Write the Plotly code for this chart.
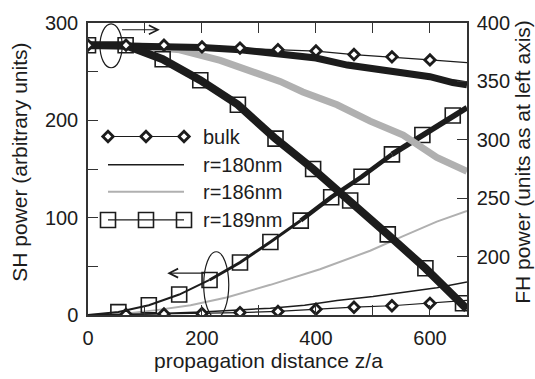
import plotly.graph_objects as go

# ---------------- data ----------------
# SH power (left axis)
sh_bulk_line_z = [0, 66.7, 133.3, 200, 266.7, 333.3, 400, 466.7, 533.3, 600, 665]
sh_bulk_line = [0, 0.5, 1, 1.5, 2.5, 3.7, 6, 8, 9.5, 12, 15]
sh_bulk_mk_z = [66.7, 133.3, 200, 266.7, 333.3, 400, 466.7, 533.3, 600]
sh_bulk_mk = [0.5, 1, 1.5, 2.5, 3.7, 6, 8, 9.5, 12]

sh180_z = [0, 100, 200, 320, 380, 437, 500, 553, 612, 665]
sh180 = [0, 1, 3, 7, 10, 15, 19, 23, 28, 34]

sh186_z = [0, 60, 120, 180, 243, 320, 407, 495, 553, 612, 665]
sh186 = [0, 1, 5, 10, 18, 31, 47, 66, 81, 96, 107]

sh189_z = [0, 53.3, 106.7, 160, 213.3, 266.7, 320, 373.3, 426.7, 480, 533.3, 586.7, 640, 665]
sh189 = [0, 3, 10, 21, 36, 54, 75, 97, 121, 142, 165, 185, 205, 213]
sh189_mk_z = [53.3, 106.7, 160, 213.3, 266.7, 320, 373.3, 426.7, 480, 533.3, 586.7, 640]
sh189_mk = [3, 10, 21, 36, 54, 75, 97, 121, 142, 165, 185, 205]

# FH power (right axis)
fh_bulk_line_z = [0, 66.7, 133.3, 200, 266.7, 333.3, 400, 466.7, 533.3, 600, 665]
fh_bulk_line = [381, 381, 381, 379.5, 378.5, 377.2, 376, 373, 371, 368.4, 366]
fh_bulk_mk_z = [0, 66.7, 133.3, 200, 266.7, 333.3, 400, 466.7, 533.3, 600]
fh_bulk_mk = [381, 381, 381, 379.5, 378.5, 377.2, 376, 373, 371, 368.4]

fh180_z = [0, 100, 200, 267, 333, 400, 455, 500, 550, 600, 640, 665]
fh180 = [381, 380.5, 379, 377, 374, 370, 364, 361, 358, 354, 349, 347]

fh186_z = [0, 90, 161, 232, 302, 337, 377, 437, 495, 553, 612, 665]
fh186 = [381, 380, 377, 368, 356, 350, 341, 330, 316, 304, 285, 273]

fh189_z = [0, 66, 131, 197, 263, 329, 395, 460, 526, 592, 658, 665]
fh189 = [381, 381, 369, 351, 330, 301, 275, 248, 219, 190, 160, 155]
fh189_mk_z = [0, 66, 131, 197, 263, 329, 395, 460, 526, 592, 658]
fh189_mk = [381, 381, 369, 351, 330, 301, 275, 248, 219, 190, 160]

legend_labels = ["bulk", "r=180nm", "r=186nm", "r=189nm"]

x_ticks = [0, 100, 200, 300, 400, 500, 600]
x_ticktext = ["0", "", "200", "", "400", "", "600"]
yl_ticks = [0, 50, 100, 150, 200, 250, 300]
yl_ticktext = ["0", "", "100", "", "200", "", "300"]
yr_ticks = [150, 200, 250, 300, 350, 400]
yr_ticktext = ["", "200", "250", "300", "350", "400"]

# ---------------- style ----------------
BLK = "#1c1c1c"
GRY = "#b0b0b0"
AX = "#333333"
FONT = "Liberation Sans, Arial, sans-serif"
FS = 20
FST = 21

W, H = 535, 379
L, R, T, B = 88, 68, 14, 64

fig = go.Figure()

def ln(x, y, color, width, yaxis="y", mode="lines", marker=None):
    d = dict(x=x, y=y, mode=mode, yaxis=yaxis, showlegend=False,
             hoverinfo="skip", line=dict(color=color, width=width))
    if marker:
        d["marker"] = marker
    fig.add_trace(go.Scatter(**d))

diamond = dict(symbol="diamond", size=8, color="white", line=dict(color=BLK, width=2.8))
square = dict(symbol="square-open", size=15, color=BLK, line=dict(color=BLK, width=1.6))

# FH curves (thick, right axis)
ln(fh186_z, fh186, GRY, 7, "y2")
ln(fh180_z, fh180, BLK, 7, "y2")
ln(fh189_z, fh189, BLK, 8, "y2")
ln(fh189_mk_z, fh189_mk, BLK, 0, "y2", "markers", square)
ln(fh_bulk_line_z, fh_bulk_line, BLK, 1.2, "y2")
ln(fh_bulk_mk_z, fh_bulk_mk, BLK, 0, "y2", "markers", diamond)

# SH curves (left axis)
ln(sh186_z, sh186, GRY, 2)
ln(sh180_z, sh180, BLK, 1.5)
segs = [(0, 5, 2), (4, 8, 3), (7, 11, 4.5), (10, 14, 5.5)]
for a, b, w in segs:
    ln(sh189_z[a:b], sh189[a:b], BLK, w)
ln(sh189_mk_z, sh189_mk, BLK, 0, "y", "markers", square)
ln(sh_bulk_line_z, sh_bulk_line, BLK, 1.2)
ln(sh_bulk_mk_z, sh_bulk_mk, BLK, 0, "y", "markers", diamond)

# ---------------- manual legend on a pixel-space helper axis ----------------
leg_y = [131, 160, 188, 217]
leg_x0, leg_x1, leg_xm = 108, 184, 146
leg_text_x = 201
styles = [
    (BLK, 1.2, diamond),
    (BLK, 1.5, None),
    (GRY, 2, None),
    (BLK, 1.2, square),
]
for yy, (c, w, mk), lab in zip(leg_y, styles, legend_labels):
    fig.add_trace(go.Scatter(x=[leg_x0, leg_xm, leg_x1], y=[yy, yy, yy],
                             xaxis="x3", yaxis="y3",
                             mode="lines+markers" if mk else "lines",
                             line=dict(color=c, width=w), marker=mk,
                             showlegend=False, hoverinfo="skip"))
    fig.add_annotation(x=leg_text_x, y=yy, xref="x3", yref="y3", text=lab,
                       showarrow=False, xanchor="left", yanchor="middle",
                       font=dict(family=FONT, size=FS, color=BLK))

# ellipses + arrows
fig.add_shape(type="circle", xref="x", yref="y", x0=21, x1=60, y0=254, y1=299,
              line=dict(color=BLK, width=1.2))
fig.add_shape(type="circle", xref="x", yref="y", x0=203, x1=247, y0=-3, y1=65,
              line=dict(color=BLK, width=1.2))
fig.add_annotation(x=126, y=293, ax=57, ay=293, xref="x", yref="y", axref="x", ayref="y",
                   text="", showarrow=True, arrowhead=5, arrowsize=1.6, arrowwidth=1.1,
                   arrowcolor=BLK)
fig.add_annotation(x=139, y=43, ax=208, ay=43, xref="x", yref="y", axref="x", ayref="y",
                   text="", showarrow=True, arrowhead=5, arrowsize=1.6, arrowwidth=1.1,
                   arrowcolor=BLK)

# axis titles
pw, ph = W - L - R, H - T - B
title_font = dict(family=FONT, size=FST, color=BLK)
fig.add_annotation(x=(268 - L) / pw, y=(H - B - 362) / ph, xref="paper", yref="paper",
                   xanchor="center", yanchor="middle",
                   text="propagation distance z/a", showarrow=False, font=title_font)
fig.add_annotation(x=(20 - L) / pw, y=(H - B - 158) / ph, xref="paper", yref="paper",
                   xanchor="center", yanchor="middle",
                   text="SH power (arbitrary units)", showarrow=False, textangle=-90,
                   font=title_font)
fig.add_annotation(x=(523 - L) / pw, y=(H - B - 157) / ph, xref="paper", yref="paper",
                   xanchor="center", yanchor="middle",
                   text="FH power (units as at left axis)", showarrow=False, textangle=-90,
                   font=title_font)

axcommon = dict(showgrid=False, zeroline=False, showline=True, linecolor=AX, linewidth=1.5,
                ticks="inside", ticklen=10, tickwidth=1.3, tickcolor=AX,
                tickfont=dict(family=FONT, size=FS, color=BLK))

fig.update_layout(
    width=W, height=H, margin=dict(l=L, r=R, t=T, b=B),
    paper_bgcolor="white", plot_bgcolor="white", showlegend=False,
    xaxis=dict(range=[0, 665], tickmode="array", tickvals=x_ticks, ticktext=x_ticktext,
               mirror="ticks", ticklabelstandoff=4, **axcommon),
    yaxis=dict(range=[0, 300], tickmode="array", tickvals=yl_ticks, ticktext=yl_ticktext,
               ticklabelstandoff=4, **axcommon),
    yaxis2=dict(range=[150, 400], overlaying="y", side="right", tickmode="array",
                tickvals=yr_ticks, ticktext=yr_ticktext, ticklabelstandoff=4, **axcommon),
    xaxis3=dict(range=[L, W - R], overlaying="x", visible=False),
    yaxis3=dict(range=[H - B, T], overlaying="y", visible=False),
)

fig.write_html("out.html")
